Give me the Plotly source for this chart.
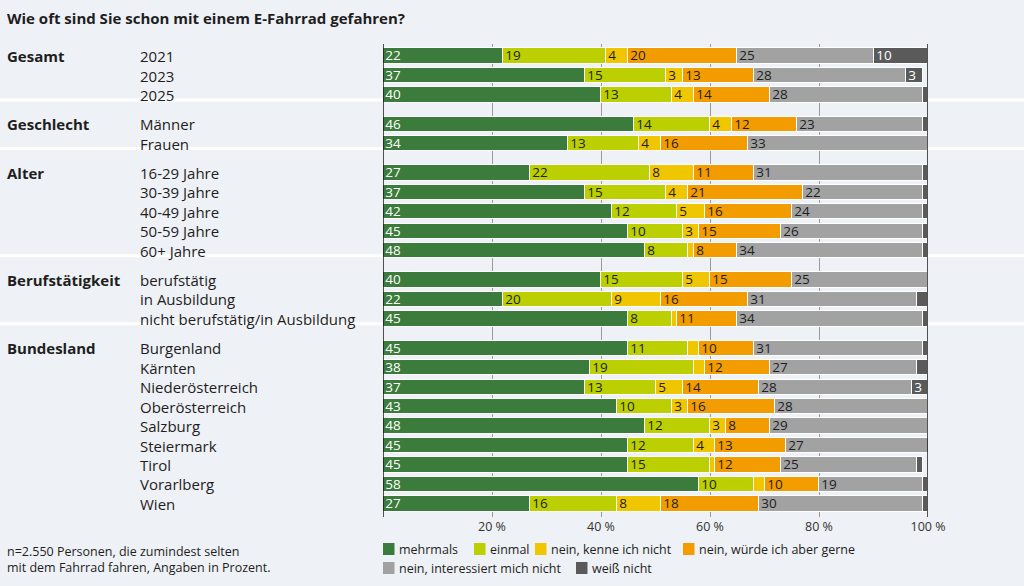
import plotly.graph_objects as go

# groups and rows
groups = ["Gesamt", "Geschlecht", "Alter", "Berufstätigkeit", "Bundesland"]
rows = [
    ["2021", "2023", "2025"],
    ["Männer", "Frauen"],
    ["16-29 Jahre", "30-39 Jahre", "40-49 Jahre", "50-59 Jahre", "60+ Jahre"],
    ["berufstätig", "in Ausbildung", "nicht berufstätig/in Ausbildung"],
    ["Burgenland", "Kärnten", "Niederösterreich", "Oberösterreich", "Salzburg",
     "Steiermark", "Tirol", "Vorarlberg", "Wien"],
]

answers = ["mehrmals", "einmal", "nein, kenne ich nicht", "nein, würde ich aber gerne",
           "nein, interessiert mich nicht", "weiß nicht"]

mehrmals = [22, 37, 40, 46, 34, 27, 37, 42, 45, 48, 40, 22, 45, 45, 38, 37, 43, 48, 45, 45, 58, 27]
einmal = [19, 15, 13, 14, 13, 22, 15, 12, 10, 8, 15, 20, 8, 11, 19, 13, 10, 12, 12, 15, 10, 16]
kenne_nicht = [4, 3, 4, 4, 4, 8, 4, 5, 3, 1, 5, 9, 1, 2, 2, 5, 3, 3, 4, 1, 2, 8]
wuerde_gerne = [20, 13, 14, 12, 16, 11, 21, 16, 15, 8, 15, 16, 11, 10, 12, 14, 16, 8, 13, 12, 10, 18]
interessiert_nicht = [25, 28, 28, 23, 33, 31, 22, 24, 26, 34, 25, 31, 34, 31, 27, 28, 28, 29, 27, 25, 19, 30]
weiss_nicht = [10, 3, 1, 1, 1, 1, 1, 1, 1, 1, 1, 2, 1, 1, 2, 3, 0, 0, 0, 1, 1, 1]

series = [mehrmals, einmal, kenne_nicht, wuerde_gerne, interessiert_nicht, weiss_nicht]
colors = ["#3b7b3b", "#bccf00", "#f0c600", "#f39c00", "#a2a2a2", "#5a5a5a"]
text_colors = ["white", "#1e1e1e", "#1e1e1e", "#1e1e1e", "#1e1e1e", "white"]
min_label = 3

tick_vals = [20, 40, 60, 80, 100]
tick_text = ["20 %", "40 %", "60 %", "80 %", "100 %"]

footnote = "n=2.550 Personen, die zumindest selten<br>mit dem Fahrrad fahren, Angaben in Prozent."
title = "Wie oft sind Sie schon mit einem E-Fahrrad gefahren?"

# y positions: half a row gap between groups
ypos, sep_pos, group_first = [], [], []
p = 0.0
for gi, r in enumerate(rows):
    if gi > 0:
        sep_pos.append(p - 0.75)
        p += 0.5
    group_first.append(p)
    for _ in r:
        ypos.append(p)
        p += 1
labels = [s for r in rows for s in r]

FONT = "Open Sans"
W, H = 1024, 586
x0, x1 = 383 / W, 928 / W

fig = go.Figure()
for name, vals, col, tcol in zip(answers, series, colors, text_colors):
    fig.add_trace(go.Bar(
        y=ypos, x=vals, orientation="h", name=name,
        marker=dict(color=col, line=dict(color="white", width=1.5)),
        width=0.78,
        text=[str(v) if v >= min_label else "" for v in vals],
        textposition="inside", insidetextanchor="start", textangle=0,
        textfont=dict(family=FONT, size=13.5, color=tcol),
        showlegend=False, hoverinfo="skip",
    ))

shapes = []
# white group separators
for s in sep_pos:
    shapes.append(dict(type="line", xref="paper", yref="y", x0=0, x1=1, y0=s, y1=s,
                       line=dict(color="white", width=3), layer="below"))
# axis lines at 0 and 100
for xv in (0, 100):
    shapes.append(dict(type="line", xref="x", yref="paper", x0=xv, x1=xv,
                       y0=(H - 517) / H, y1=(H - 44) / H,
                       line=dict(color="#1a1a1a", width=1.5), layer="above"))

annotations = [dict(text="<b>" + title + "</b>", xref="paper", yref="paper",
                    x=5 / W, y=(H - 18) / H, xanchor="left", yanchor="middle",
                    showarrow=False, font=dict(family=FONT, size=15, color="#1e1e1e"))]
for g, yg in zip(groups, group_first):
    annotations.append(dict(text="<b>" + g + "</b>", xref="paper", yref="y", x=5 / W, y=yg,
                            xanchor="left", yanchor="middle", showarrow=False,
                            font=dict(family=FONT, size=15, color="#1e1e1e")))
for lab, yv in zip(labels, ypos):
    annotations.append(dict(text=lab, xref="paper", yref="y", x=138 / W, y=yv,
                            xanchor="left", yanchor="middle", showarrow=False,
                            font=dict(family=FONT, size=15, color="#1e1e1e")))
annotations.append(dict(text=footnote, xref="paper", yref="paper", x=5 / W, y=(H - 541) / H,
                        xanchor="left", yanchor="top", align="left", showarrow=False,
                        font=dict(family=FONT, size=12.5, color="#1e1e1e")))

# legend drawn by hand to match the spacing of the original
leg_x = [383, 474, 535, 683, 383, 576]
leg_y = [549, 549, 549, 549, 568, 568]
for name, col, lx, ly in zip(answers, colors, leg_x, leg_y):
    shapes.append(dict(type="rect", xref="paper", yref="paper",
                       x0=lx / W, x1=(lx + 11.5) / W, y0=(H - ly - 6) / H, y1=(H - ly + 6) / H,
                       fillcolor=col, line=dict(width=0)))
    annotations.append(dict(text=name, xref="paper", yref="paper", x=(lx + 14) / W, y=(H - ly) / H,
                            xanchor="left", yanchor="middle", showarrow=False,
                            font=dict(family=FONT, size=12.5, color="#1e1e1e")))

fig.update_layout(
    width=W, height=H, barmode="stack", bargap=0,
    paper_bgcolor="#eef1f5", plot_bgcolor="rgba(0,0,0,0)",
    margin=dict(l=0, r=0, t=0, b=0, autoexpand=False),
    font=dict(family=FONT, color="#1e1e1e"),
    shapes=shapes, annotations=annotations,
    uniformtext=dict(minsize=13.5, mode="show"),
    xaxis=dict(domain=[x0, x1], range=[0, 100], tickvals=tick_vals, ticktext=tick_text,
               showgrid=True, gridcolor="#9a9a9a", gridwidth=1, zeroline=False,
               showline=False, ticks="", tickfont=dict(family=FONT, size=12.5, color="#333333"),
               automargin=False, fixedrange=True),
    yaxis=dict(domain=[(H - 517) / H, (H - 44) / H], range=[ypos[-1] + 0.67, -0.62],
               showticklabels=False, showgrid=False, zeroline=False, ticks="",
               automargin=False, fixedrange=True),
)

fig.write_html(
    "out.html", config={"displayModeBar": False},
    post_script="document.body.style.margin='0';document.body.style.overflow='hidden';"
                "document.documentElement.style.overflow='hidden';",
)
